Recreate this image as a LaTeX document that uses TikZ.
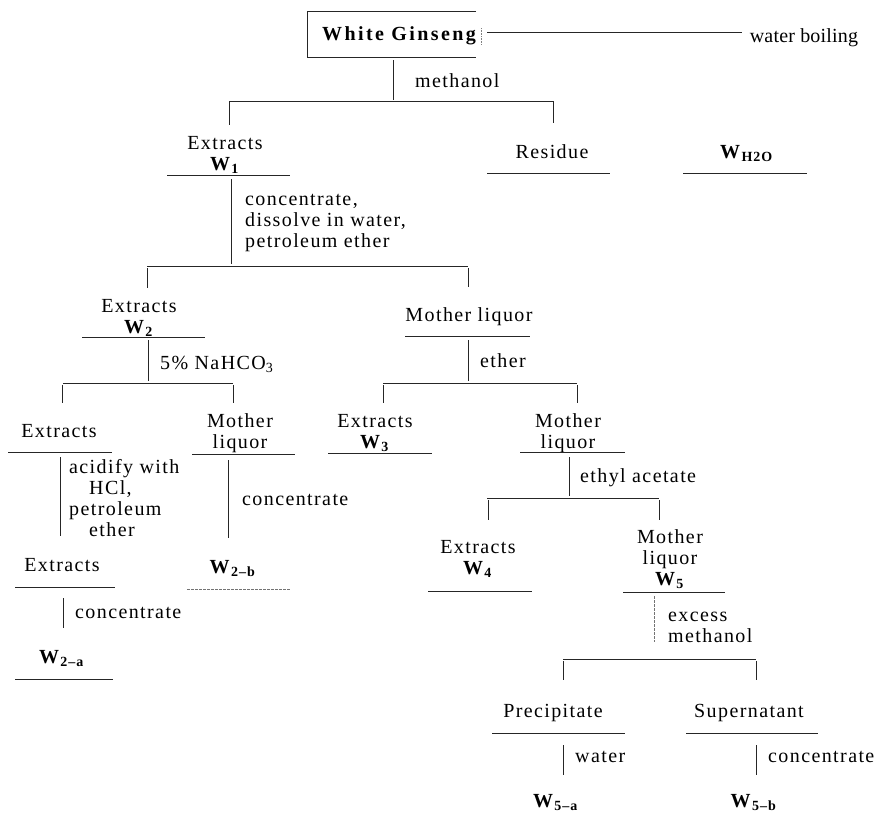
\documentclass[tikz,border=0pt]{standalone}
\usepackage{fontspec}
\setmainfont{Liberation Serif}[LetterSpace=7]
\newcommand{\Wn}[1]{\textbf{W}\textsubscript{\textbf{#1}}}
\begin{document}
\begin{tikzpicture}[x=1pt,y=-1pt,
  lbl/.style={font=\fontsize{20}{21}\selectfont, inner sep=0pt, anchor=base, align=center},
  lbll/.style={font=\fontsize{20}{21}\selectfont, inner sep=0pt, anchor=base west, align=left},
  ln/.style={line width=0.8pt, black!85},
  faint/.style={line width=0.6pt, black!55, dash pattern=on 3pt off 1pt}
]
\useasboundingbox (0,0) rectangle (890,822);

% ---------- text nodes (base = baseline of last line) ----------
\node[lbl, font=\fontsize{20}{21}\selectfont\bfseries\addfontfeature{LetterSpace=12}] (wg) at (399,40) {White Ginseng};
\node[lbll] (meth) at (415,87) {methanol};
\node[lbl, font=\fontsize{20}{21}\selectfont\addfontfeature{LetterSpace=1}] (wb) at (804,42) {water boiling};
\node[lbl] (w1) at (225,170) {Extracts\\\Wn{1}};
\node[lbl] (res) at (552,158) {Residue};
\node[lbl] (wh2o) at (747,158) {\Wn{H2O}};
\node[lbll] (conc1) at (245,247) {concentrate,\\dissolve in water,\\petroleum ether};
\node[lbl] (w2) at (139,333) {Extracts\\\Wn{2}};
\node[lbl] (ml1) at (469,321) {Mother liquor};
\node[lbll] (nahco) at (160,369) {5\% NaHCO\textsubscript{3}};
\node[lbll] (eth) at (480,367) {ether};
\node[lbl] (ex1) at (59,437) {Extracts};
\node[lbl] (ml2) at (240,448) {Mother\\liquor};
\node[lbl] (w3) at (375,448) {Extracts\\\Wn{3}};
\node[lbl] (ml3) at (568,448) {Mother\\liquor};
\node[lbll] (acid) at (69,536) {acidify with\\\hspace*{1em}HCl,\\petroleum\\\hspace*{1em}ether};
\node[lbll] (conc2) at (242,505) {concentrate};
\node[lbll] (ethac) at (580,482) {ethyl acetate};
\node[lbl] (ex2) at (62,571) {Extracts};
\node[lbl] (w2b) at (233,573) {\Wn{2--b}};
\node[lbll] (conc3) at (75,618) {concentrate};
\node[lbl] (w2a) at (62,663) {\Wn{2--a}};
\node[lbl] (w4) at (478,574) {Extracts\\\Wn{4}};
\node[lbl] (w5) at (670,585) {Mother\\liquor\\\Wn{5}};
\node[lbll] (exm) at (668,642) {excess\\methanol};
\node[lbl] (prec) at (553,717) {Precipitate};
\node[lbl] (sup) at (749,717) {Supernatant};
\node[lbll] (wat) at (575,762) {water};
\node[lbll] (conc4) at (768,762) {concentrate};
\node[lbl] (w5a) at (556,807) {\Wn{5--a}};
\node[lbl] (w5b) at (754,807) {\Wn{5--b}};

% ---------- lines ----------
% White Ginseng box
\draw[ln] (476,11) -- (307,11) -- (307,57) -- (476,57);
\draw[line width=0.6pt, black!50, densely dotted] (481,28) -- (481,45);
\draw[ln] (487,32) -- (742,32);
% methanol split
\draw[ln] (393,60) -- (393,100);
\draw[ln] (229,101) -- (553,101);
\draw[ln] (229,101) -- (229,125);
\draw[ln] (553,101) -- (553,123);
\draw[ln] (167,175) -- (290,175);
\draw[ln] (487,173) -- (610,173);
\draw[ln] (683,173) -- (807,173);
% concentrate, dissolve
\draw[ln] (231,179) -- (231,264);
\draw[ln] (147,266) -- (468,266);
\draw[ln] (147,268) -- (147,288);
\draw[ln] (468,268) -- (468,287);
\draw[ln] (82,337) -- (205,337);
\draw[ln] (405,336) -- (530,336);
% NaHCO3
\draw[ln] (148,340) -- (148,381);
\draw[ln] (63,383) -- (233,383);
\draw[ln] (62,385) -- (62,403);
\draw[ln] (233,385) -- (233,403);
% ether
\draw[ln] (468,340) -- (468,381);
\draw[ln] (383,383) -- (577,383);
\draw[ln] (383,385) -- (383,403);
\draw[ln] (577,385) -- (577,403);
% underlines row 2
\draw[ln] (8,452) -- (112,452);
\draw[ln] (192,454) -- (295,454);
\draw[ln] (328,453) -- (432,453);
\draw[ln] (520,452) -- (625,452);
% acidify / concentrate
\draw[ln] (60,457) -- (60,536);
\draw[ln] (228,460) -- (228,538);
% ethyl acetate
\draw[ln] (569,457) -- (569,496);
\draw[ln] (487,498) -- (659,498);
\draw[ln] (488,500) -- (488,520);
\draw[ln] (659,500) -- (659,520);
% row 3 underlines
\draw[ln] (15,587) -- (115,587);
\draw[faint] (187,589) -- (290,589);
\draw[ln] (428,591) -- (532,591);
\draw[ln] (623,592) -- (725,592);
% concentrate -> W2-a
\draw[ln] (63,598) -- (63,628);
\draw[ln] (15,679) -- (113,679);
% excess methanol
\draw[faint] (654,596) -- (654,642);
\draw[ln] (563,659) -- (756,659);
\draw[ln] (563,661) -- (563,680);
\draw[ln] (756,661) -- (756,680);
\draw[ln] (492,733) -- (625,733);
\draw[ln] (686,733) -- (818,733);
\draw[ln] (563,745) -- (563,775);
\draw[ln] (756,745) -- (756,775);
\end{tikzpicture}
\end{document}
